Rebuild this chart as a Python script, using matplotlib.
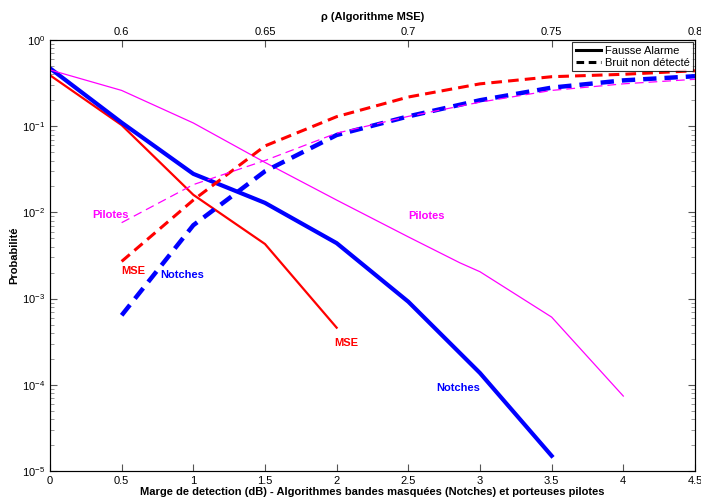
import numpy as np
import matplotlib
matplotlib.use("Agg")
import matplotlib.pyplot as plt
from matplotlib.lines import Line2D
from matplotlib.ticker import LogLocator, NullFormatter

plt.rcParams['font.family'] = ['Liberation Sans', 'DejaVu Sans']

# marge de detection (dB)
x_fa = [0, 0.5, 1, 1.5, 2]
mse_fa = [0.39, 0.103, 0.016, 0.0043, 4.6e-4]

x_notch_fa = [0, 0.5, 1, 1.5, 2, 2.5, 3, 3.5]
notch_fa = [0.47, 0.11, 0.028, 0.0129, 0.0044, 9.2e-4, 1.37e-4, 1.5e-5]

x_pil_fa = [0, 0.5, 1, 1.5, 2, 2.5, 2.86, 3, 3.5, 4]
pil_fa = [0.45, 0.26, 0.109, 0.038, 0.0139, 0.0052, 0.0026, 0.00205, 6.1e-4, 7.4e-5]

x_bnd = [0.5, 1, 1.5, 2, 2.5, 3, 3.5, 4, 4.5]
mse_bnd = [0.0027, 0.0139, 0.059, 0.129, 0.218, 0.31, 0.375, 0.40, 0.44]
notch_bnd = [6.4e-4, 0.0071, 0.030, 0.079, 0.13, 0.20, 0.28, 0.34, 0.38]
pil_bnd = [0.0076, 0.021, 0.040, 0.083, 0.13, 0.19, 0.26, 0.31, 0.35]

red = '#ff0000'
blue = '#0000ff'
mag = '#ff00ff'

fig = plt.figure(figsize=(7.01, 5.0), dpi=100)
ax = fig.add_axes([0.0713, 0.058, 0.9201, 0.862])

ax.plot(x_fa, mse_fa, color=red, lw=1.6)
ax.plot(x_notch_fa, notch_fa, color=blue, lw=3.0)
ax.plot(x_pil_fa, pil_fa, color=mag, lw=0.9)
ax.plot(x_bnd, mse_bnd, color=red, lw=2.2, ls=(0, (3.5, 2)))
ax.plot(x_bnd, notch_bnd, color=blue, lw=3.2, ls=(0, (3, 1.8)))
ax.plot(x_bnd, pil_bnd, color=mag, lw=0.9, ls=(0, (7, 4)))

ax.set_yscale('log')
ax.set_xlim(0, 4.5)
ax.set_ylim(1e-5, 1)
ax.set_xticks([0, 0.5, 1, 1.5, 2, 2.5, 3, 3.5, 4, 4.5])
ax.set_xticklabels(['0', '0.5', '1', '1.5', '2', '2.5', '3', '3.5', '4', '4.5'])
ax.yaxis.set_minor_locator(LogLocator(base=10, subs=np.arange(2, 10)))
ax.yaxis.set_minor_formatter(NullFormatter())
ax.tick_params(axis='both', which='both', direction='in', right=True, labelsize=8)
ax.tick_params(which='major', length=5, color='#555555')
ax.tick_params(which='minor', length=3, color='#888888')
for s in ax.spines.values():
    s.set_color('#444444')

ax.set_ylabel('Probabilité', fontsize=8, fontweight='bold', labelpad=2)
ax.set_xlabel('Marge de detection (dB) - Algorithmes bandes masquées (Notches) et porteuses pilotes',
              fontsize=8, fontweight='bold', labelpad=1)

ax2 = ax.twiny()
ax2.set_xlim(0.575, 0.8)
ax2.set_xticks([0.6, 0.65, 0.7, 0.75, 0.8])
ax2.set_xticklabels(['0.6', '0.65', '0.7', '0.75', '0.8'])
ax2.tick_params(direction='in', labelsize=8, length=5, color='#555555', pad=2)
ax2.set_xlabel('ρ (Algorithme MSE)', fontsize=8, fontweight='bold', labelpad=5)

tk = dict(fontsize=8, fontweight='bold', ha='center', va='center')
ax.text(0.42, 0.0093, 'Pilotes', color=mag, **tk)
ax.text(0.58, 0.0021, 'MSE', color=red, **tk)
ax.text(0.92, 0.00188, 'Notches', color=blue, **tk)
ax.text(2.63, 0.0091, 'Pilotes', color=mag, **tk)
ax.text(2.07, 3.05e-4, 'MSE', color=red, **tk)
ax.text(2.85, 9.2e-5, 'Notches', color=blue, **tk)

handles = [Line2D([], [], color='black', lw=2.2),
           Line2D([], [], color='black', lw=2.2, ls=(0, (2.5, 1.5)))]
leg = ax.legend(handles, ['Fausse Alarme', 'Bruit non détecté'], loc='upper right',
                fontsize=8, frameon=True, fancybox=False, borderaxespad=0.2,
                handlelength=2.3, handletextpad=0.3, borderpad=0.3, labelspacing=0.2)
leg.get_frame().set_edgecolor('black')
leg.get_frame().set_linewidth(0.8)

fig.savefig('out.png', dpi=100)
